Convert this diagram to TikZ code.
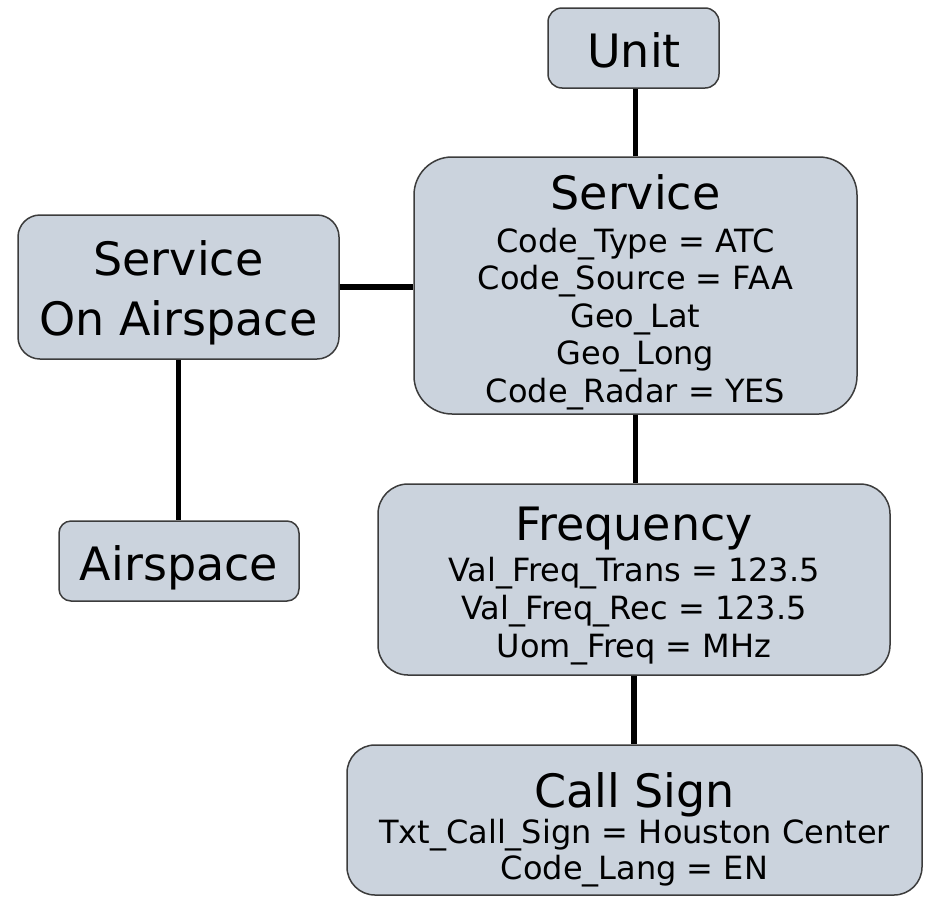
\documentclass[tikz,border=0pt]{standalone}
\usepackage{fontspec}
\setmainfont{DejaVu Sans}
\definecolor{boxfill}{RGB}{203,211,221}
\definecolor{boxline}{RGB}{60,60,60}
\begin{document}
\begin{tikzpicture}[x=1pt,y=-1pt,
  box/.style={draw=boxline, line width=1.5pt, fill=boxfill, inner sep=0pt},
  conn/.style={line width=5.7pt, draw=black},
  ttl/.style={anchor=base, inner sep=0pt, font=\fontsize{46}{50}\selectfont},
  att/.style={anchor=base, inner sep=0pt, font=\fontsize{32}{36}\selectfont}]
\useasboundingbox (0,0) rectangle (925,900);

\coordinate (cUnit) at (633.5,48);
\coordinate (cService) at (635.5,285.5);
\coordinate (cSoa) at (178.5,287);
\coordinate (cAir) at (179,561);
\coordinate (cFreq) at (634,579.5);
\coordinate (cCall) at (634.5,820);

% boxes
\node[box, minimum width=171pt, minimum height=80pt, rounded corners=14pt] (unit) at (cUnit) {};
\node[box, minimum width=443pt, minimum height=257pt, rounded corners=38pt] (service) at (cService) {};
\node[box, minimum width=321pt, minimum height=144pt, rounded corners=22pt] (soa) at (cSoa) {};
\node[box, minimum width=240pt, minimum height=80pt, rounded corners=12pt] (airspace) at (cAir) {};
\node[box, minimum width=512pt, minimum height=191pt, rounded corners=30pt] (freq) at (cFreq) {};
\node[box, minimum width=575pt, minimum height=150pt, rounded corners=28pt] (callsign) at (cCall) {};

% connectors
\draw[conn] (service.north) -- (service.north |- unit.south);
\draw[conn] (soa.east) -- (soa.east -| service.west);
\draw[conn] (soa.south) -- (soa.south |- airspace.north);
\draw[conn] (service.south) -- (service.south |- freq.north);
\draw[conn] (freq.south) -- (freq.south |- callsign.north);

% texts
\node[ttl] (tUnit) at (634,67) {Unit};

\node[ttl] (tService) at (635.5,209) {Service};
\node[att] (tS1) at (635.5,252) {Code\_Type = ATC};
\node[att] (tS2) at (635.5,289.5) {Code\_Source = FAA};
\node[att] (tS3) at (635.5,327) {Geo\_Lat};
\node[att] (tS4) at (635.5,364.5) {Geo\_Long};
\node[att] (tS5) at (635.5,402) {Code\_Radar = YES};

\node[ttl] (tSoa1) at (178.5,275) {Service};
\node[ttl] (tSoa2) at (178.5,335) {On Airspace};

\node[ttl] (tAir) at (179,580) {Airspace};

\node[ttl] (tFreq) at (634,540) {Frequency};
\node[att] (tF1) at (634,581) {Val\_Freq\_Trans = 123.5};
\node[att] (tF2) at (634,619) {Val\_Freq\_Rec = 123.5};
\node[att] (tF3) at (634,657) {Uom\_Freq = MHz};

\node[ttl] (tCall) at (634.5,807) {Call Sign};
\node[att] (tC1) at (634.5,843) {Txt\_Call\_Sign = Houston Center};
\node[att] (tC2) at (634.5,879) {Code\_Lang = EN};
\end{tikzpicture}
\end{document}
